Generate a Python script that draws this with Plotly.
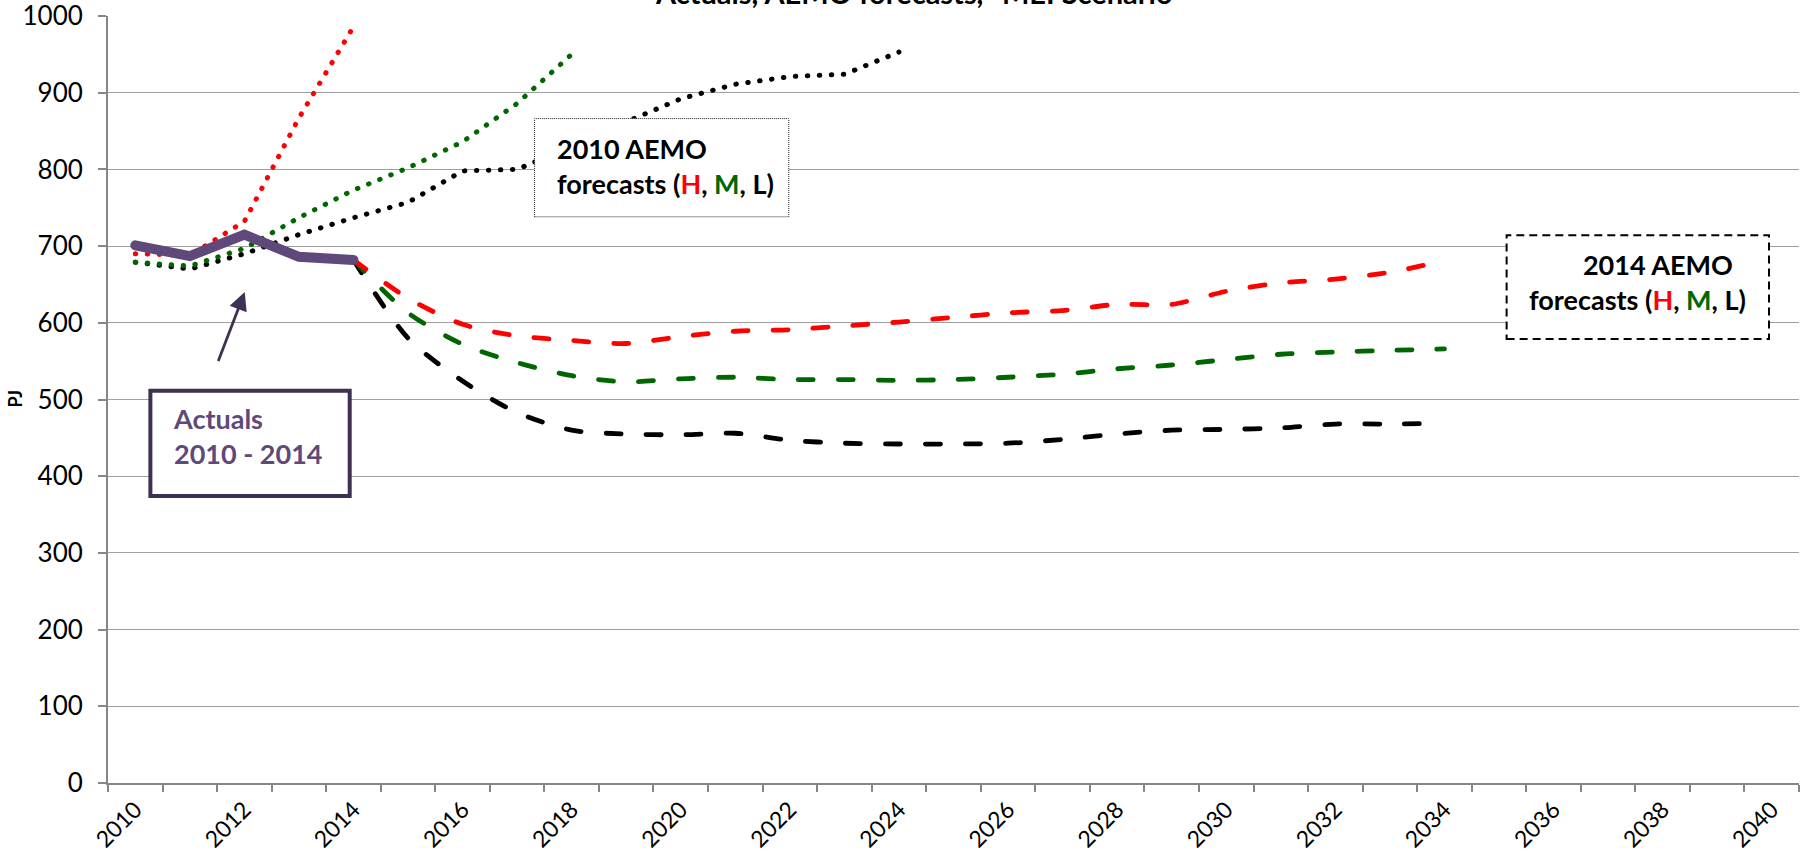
import plotly.graph_objects as go

# ---------------- data ----------------
years = list(range(2010, 2041))
tick_years = list(range(2010, 2041, 2))
tick_labels = [str(y) for y in tick_years]

actual_years = [2010, 2011, 2012, 2013, 2014]
actuals = [701, 687, 715, 686, 682]

f2010_h_years = [2010, 2011, 2012, 2013, 2014]
f2010_h = [690, 688, 732, 867, 986]
f2010_m_years = list(range(2010, 2019))
f2010_m = [679, 674, 697, 737, 773, 802, 836, 886, 950]
f2010_l_years = list(range(2010, 2025))
f2010_l = [679, 670, 690, 715, 737, 757, 798, 800, 830, 862, 892, 911, 921, 924, 953]

f2014_years = list(range(2014, 2035))
f2014_h = [682, 632, 598, 583, 577, 573, 582, 589, 591, 596, 601, 607, 613, 616, 624, 624, 641, 652, 657, 666, 681]
f2014_m = [682, 613, 572, 548, 531, 523, 527, 529, 526, 526, 525, 526, 529, 533, 540, 545, 552, 559, 562, 564, 566]
f2014_l = [682, 580, 524, 483, 460, 455, 454, 456, 447, 443, 442, 442, 443, 448, 455, 460, 461, 463, 468, 468, 469]

# ---------------- styles ----------------
RED = "#FF0000"
GREEN = "#006600"
BLACK = "#000000"
PURPLE = "#5F497A"
PURPLE_DARK = "#3F3151"
FONT = "Lato"
DOT = "0.5px,11.5px"
DASH = "15px,25px"

fig = go.Figure()

def add(x, y, color, width, dash, shape="linear"):
    fig.add_trace(go.Scatter(x=x, y=y, mode="lines",
                             line=dict(color=color, width=width, dash=dash, shape=shape,
                                       smoothing=0.8 if shape == "spline" else None),
                             hoverinfo="skip", showlegend=False))

add(f2010_l_years, f2010_l, BLACK, 5, DOT)
add(f2010_m_years, f2010_m, GREEN, 5, DOT)
add(f2010_h_years, f2010_h, RED, 5, DOT)
add(f2014_years, f2014_l, BLACK, 4.8, DASH, "spline")
add(f2014_years, f2014_m, GREEN, 4.8, DASH, "spline")
add(f2014_years, f2014_h, RED, 4.8, DASH, "spline")
add(actual_years, actuals, PURPLE, 10, "solid")

# ---------------- boxes ----------------
fig.add_shape(type="rect", xref="x", yref="y", x0=2017.32, x1=2021.98, y0=738.2, y1=866.3,
              line=dict(color="#222222", width=1, dash="1px,1px"), fillcolor="white", layer="above")
fig.add_shape(type="rect", xref="x", yref="y", x0=2035.14, x1=2039.95, y0=578.8, y1=714.3,
              line=dict(color="black", width=2, dash="8px,5px"), fillcolor="white", layer="above")
fig.add_shape(type="rect", xref="x", yref="y", x0=2010.277, x1=2013.931, y0=374.3, y1=511.5,
              line=dict(color=PURPLE_DARK, width=4), fillcolor="white", layer="above")

HL = "(<span style='color:#FF0000'>H</span>, <span style='color:#006600'>M</span>, L)"
fig.add_annotation(x=2017.69, y=805, xref="x", yref="y", xanchor="left", yanchor="middle",
                   align="left", showarrow=False,
                   text="<b>2010 AEMO<br>forecasts " + HL + "</b>",
                   font=dict(family=FONT, size=27, color="black"))
fig.add_annotation(x=2039.56, y=653, xref="x", yref="y", xanchor="right", yanchor="middle",
                   align="right", showarrow=False,
                   text="<b>2014 AEMO\u00a0\u00a0<br>forecasts " + HL + "</b>",
                   font=dict(family=FONT, size=27, color="black"))
fig.add_annotation(x=2010.662, y=453, xref="x", yref="y", xanchor="left", yanchor="middle",
                   align="left", showarrow=False,
                   text="<b>Actuals<br>2010 - 2014</b>",
                   font=dict(family=FONT, size=27, color=PURPLE))
# arrow
fig.add_annotation(x=2012.006, y=640, ax=2011.511, ay=548.2, xref="x", yref="y",
                   axref="x", ayref="y", text="", showarrow=True,
                   arrowhead=2, arrowsize=1.3, arrowwidth=2.8, arrowcolor=PURPLE_DARK, standoff=0)
# title (partly cut off at top, as in the reference)
fig.add_annotation(x=0.3221, y=1, xref="paper", yref="paper", xanchor="left", yanchor="bottom",
                   yshift=4, showarrow=False, text="<b>Actuals, AEMO forecasts, \"MEI Scenario\"</b>",
                   font=dict(family=FONT, size=29, color="black"))
# y axis title
fig.add_annotation(x=0, y=0.5, xref="paper", yref="paper", xanchor="center", yanchor="middle",
                   xshift=-94, showarrow=False, text="<b>PJ</b>", textangle=-90,
                   font=dict(family=FONT, size=18, color="black"))

fig.update_layout(
    width=1816, height=860,
    margin=dict(l=108, r=17, t=16, b=77),
    paper_bgcolor="white", plot_bgcolor="white",
    showlegend=False,
    font=dict(family=FONT, size=26, color="black"),
    xaxis=dict(range=[2009.5, 2040.5], tickmode="array", tickvals=tick_years, ticktext=tick_labels,
               tickangle=-45, ticks="", showgrid=False, zeroline=False,
               showline=True, linecolor="#868686", linewidth=2,
               ticklabelstandoff=2, automargin=False, ticklabeloverflow="allow",
               minor=dict(tickmode="array", tickvals=[y - 0.5 for y in years] + [years[-1] + 0.5],
                          ticks="outside", ticklen=7, tickwidth=1.5, tickcolor="#868686", showgrid=False),
               tickfont=dict(family=FONT, size=23, color="black")),
    yaxis=dict(range=[0, 1000], dtick=100, tick0=0, showgrid=True, gridcolor="#A0A0A0", gridwidth=1.3,
               zeroline=False, showline=True, linecolor="#868686", linewidth=2,
               ticks="outside", ticklen=8, tickwidth=1.5, tickcolor="#868686",
               ticklabelstandoff=10, automargin=False, ticklabeloverflow="allow",
               tickfont=dict(family=FONT, size=26, color="black")),
)

post = """
var st=document.createElement('style');
st.innerHTML='body{margin:0;overflow:hidden;} .js-line{stroke-linecap:round !important;}';
document.head.appendChild(st);
document.querySelectorAll('.js-line').forEach(function(p){p.style.strokeLinecap='round';});
"""
fig.write_html("out.html", post_script=post, config={"displayModeBar": False})
